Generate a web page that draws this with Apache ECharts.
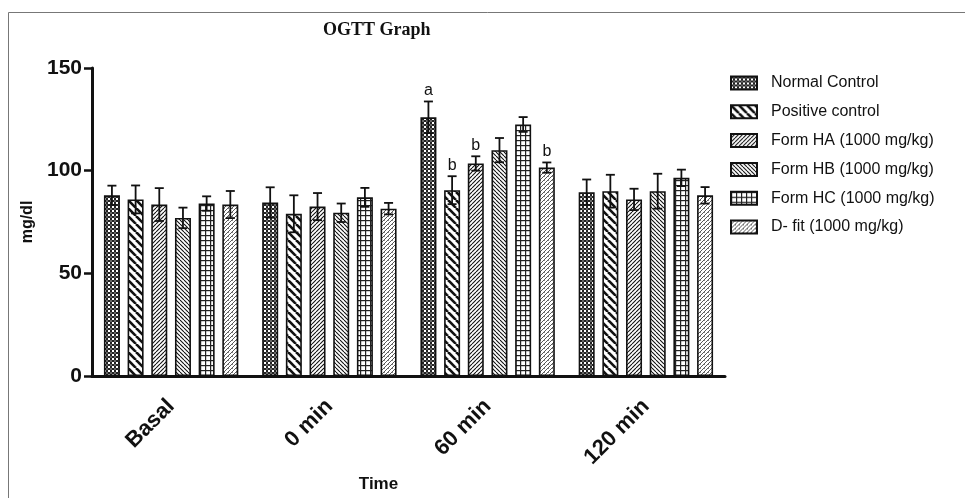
<!DOCTYPE html>
<html>
<head>
<meta charset="utf-8">
<script src="https://cdn.jsdelivr.net/npm/echarts@6/dist/echarts.min.js"></script>
<style>
  html, body { margin: 0; padding: 0; background: #fff; }
  #main { width: 965px; height: 498px; }
</style>
</head>
<body>
<div id="main"></div>
<script>
var categories = ['Basal', '0 min', '60 min', '120 min'];
var seriesNames = ['Normal Control', 'Positive control', 'Form HA (1000 mg/kg)',
    'Form HB (1000 mg/kg)', 'Form HC (1000 mg/kg)', 'D- fit (1000 mg/kg)'];

// mean values per group, one entry per time point
var normalControl = [88, 84.5, 126, 89.5];
var positiveControl = [86, 79, 90.5, 90];
var formHA = [83.5, 82.5, 103.5, 86];
var formHB = [77, 79.5, 110, 90];
var formHC = [84, 87, 122.5, 96.5];
var dFit = [83.5, 81.5, 101.5, 88];

// error (SEM) per group
var errNormal = [4.7, 7.4, 7.7, 6.2];
var errPositive = [6.8, 9, 6.8, 8];
var errHA = [8, 6.6, 3.5, 5.2];
var errHB = [5, 4.5, 5.9, 8.5];
var errHC = [3.5, 4.6, 3.6, 4];
var errDFit = [6.6, 2.8, 2.5, 4];

// significance letters
var sigNormal = ['', '', 'a', ''];
var sigPositive = ['', '', 'b', ''];
var sigHA = ['', '', 'b', ''];
var sigHB = ['', '', '', ''];
var sigHC = ['', '', '', ''];
var sigDFit = ['', '', 'b', ''];

var allValues = [normalControl, positiveControl, formHA, formHB, formHC, dFit];
var allErrs = [errNormal, errPositive, errHA, errHB, errHC, errDFit];
var allSigs = [sigNormal, sigPositive, sigHA, sigHB, sigHC, sigDFit];

var BAR_W = 16;
var BAR_GAP = 0.48;

function makePattern(kind) {
    var s = kind === 'checker' ? 4 : kind === 'wide' ? 8 : kind === 'grid' ? 5 : 4;
    var c = document.createElement('canvas');
    c.width = s; c.height = s;
    var g = c.getContext('2d');
    g.fillStyle = '#fff';
    g.fillRect(0, 0, s, s);
    g.strokeStyle = '#111';
    g.fillStyle = '#222';
    if (kind === 'checker') {
        g.fillRect(0, 0, 2, 2);
        g.fillRect(2, 2, 2, 2);
        g.fillStyle = '#666';
        g.fillRect(2, 0, 2, 2);
    } else if (kind === 'grid') {
        g.fillRect(0, 0, s, 1.2);
        g.fillRect(0, 0, 1.2, s);
    } else {
        var back = (kind === 'wide' || kind === 'back');
        g.lineWidth = kind === 'wide' ? 2.6 : (kind === 'light' ? 0.9 : 1.1);
        if (kind === 'light') g.strokeStyle = '#444';
        for (var k = -1; k <= 1; k++) {
            g.beginPath();
            if (back) {
                g.moveTo(k * s, 0); g.lineTo(k * s + s, s);
            } else {
                g.moveTo(k * s, s); g.lineTo(k * s + s, 0);
            }
            g.stroke();
        }
        if (kind === 'light') {
            g.fillStyle = '#888';
            g.fillRect(0, 0, 1, 1);
        }
    }
    return { image: c, repeat: 'repeat' };
}

var patternKinds = ['checker', 'wide', 'fwd', 'back', 'grid', 'light'];

var chart = echarts.init(document.getElementById('main'), null, { renderer: 'canvas' });

var series = [];
for (var i = 0; i < 6; i++) {
    series.push({
        name: seriesNames[i],
        type: 'bar',
        barWidth: BAR_W,
        barGap: (BAR_GAP * 100) + '%',
        data: allValues[i],
        itemStyle: {
            color: makePattern(patternKinds[i]),
            borderColor: '#111',
            borderWidth: 1.6
        },
        emphasis: { disabled: true }
    });
}

var errData = [];
for (var si = 0; si < 6; si++) {
    for (var ci = 0; ci < categories.length; ci++) {
        errData.push([ci, allValues[si][ci], allErrs[si][ci], si, allSigs[si][ci]]);
    }
}

series.push({
    name: 'err',
    type: 'custom',
    data: errData,
    z: 5,
    silent: true,
    renderItem: function (params, api) {
        var ci = api.value(0), v = api.value(1), e = api.value(2), si = api.value(3);
        var sig = errData[params.dataIndex][4];
        var off = (si - 2.5) * BAR_W * (1 + BAR_GAP);
        var top = api.coord([ci, v + e]);
        var bot = api.coord([ci, v - e]);
        var x = top[0] + off;
        var cap = 4.5;
        var st = { stroke: '#111', lineWidth: 1.8 };
        var kids = [
            { type: 'line', shape: { x1: x, y1: top[1], x2: x, y2: bot[1] }, style: st },
            { type: 'line', shape: { x1: x - cap, y1: top[1], x2: x + cap, y2: top[1] }, style: st },
            { type: 'line', shape: { x1: x - cap, y1: bot[1], x2: x + cap, y2: bot[1] }, style: st }
        ];
        if (sig) {
            kids.push({
                type: 'text',
                style: {
                    text: sig, x: x, y: top[1] - 3, align: 'center', verticalAlign: 'bottom',
                    fontFamily: 'Liberation Sans, Arial', fontSize: 16, fill: '#111'
                }
            });
        }
        return { type: 'group', children: kids };
    }
});

var option = {
    animation: false,
    backgroundColor: '#fff',
    title: {
        text: 'OGTT Graph',
        left: 318,
        top: 16,
        textStyle: {
            fontFamily: 'Liberation Serif, Times New Roman, serif',
            fontWeight: 'bold',
            fontSize: 18,
            color: '#111'
        }
    },
    graphic: [{
        type: 'rect',
        shape: { x: 8.5, y: 12.5, width: 980, height: 520 },
        style: { fill: 'none', stroke: '#777', lineWidth: 1 },
        silent: true
    }],
    legend: {
        orient: 'vertical',
        left: 725,
        top: 70,
        icon: 'rect',
        itemWidth: 26,
        itemHeight: 13,
        itemGap: 12.8,
        data: seriesNames,
        textStyle: {
            fontFamily: 'Liberation Sans, Arial',
            fontSize: 16,
            color: '#111',
            padding: [0, 0, 0, 9]
        }
    },
    grid: {
        left: 92,
        right: 240,
        top: 68,
        bottom: 118,
        containLabel: false
    },
    xAxis: {
        type: 'category',
        data: categories,
        name: 'Time',
        nameLocation: 'middle',
        nameGap: 100,
        nameTextStyle: {
            fontFamily: 'Liberation Sans, Arial',
            fontWeight: 'bold',
            fontSize: 17,
            color: '#111',
            padding: [0, 60, 0, 0]
        },
        axisLine: { lineStyle: { color: '#111', width: 3 } },
        axisTick: { alignWithLabel: true, length: 7, lineStyle: { color: '#111', width: 2.5 } },
        axisLabel: {
            rotate: 45,
            margin: 27,
            fontFamily: 'Liberation Sans, Arial',
            fontWeight: 'bold',
            fontSize: 22,
            color: '#111'
        }
    },
    yAxis: {
        type: 'value',
        min: 0,
        max: 150,
        interval: 50,
        name: 'mg/dl',
        nameLocation: 'middle',
        nameGap: 56,
        nameTextStyle: {
            fontFamily: 'Liberation Sans, Arial',
            fontWeight: 'bold',
            fontSize: 16,
            color: '#111'
        },
        splitLine: { show: false },
        axisLine: { show: true, lineStyle: { color: '#111', width: 3 } },
        axisTick: { show: true, length: 8, lineStyle: { color: '#111', width: 2.5 } },
        axisLabel: {
            margin: 10,
            fontFamily: 'Liberation Sans, Arial',
            fontWeight: 'bold',
            fontSize: 21,
            color: '#111'
        }
    },
    series: series
};

chart.setOption(option);
</script>
</body>
</html>
